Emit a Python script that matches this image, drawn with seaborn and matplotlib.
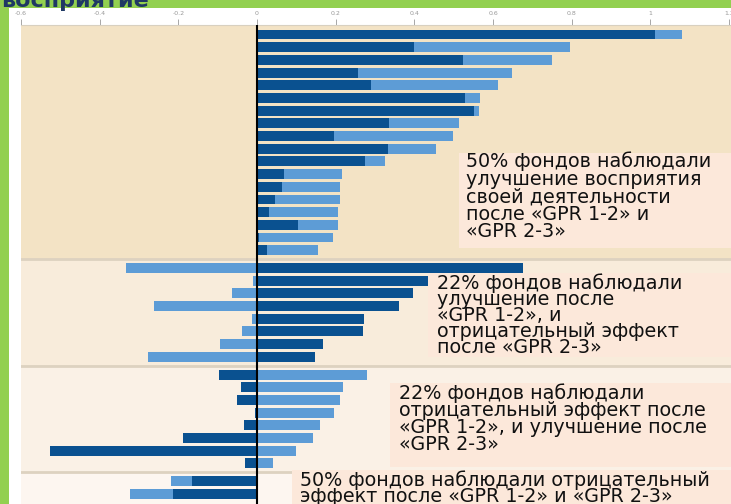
import numpy as np
import pandas as pd
import matplotlib
matplotlib.use('agg')
import matplotlib.pyplot as plt
from matplotlib.patches import Rectangle
import seaborn as sns

# change of perception per fund: dark = after GPR 1-2, light = after GPR 2-3
gpr12_both_up = [1.012, 0.400, 0.523, 0.256, 0.291, 0.530, 0.551, 0.336, 0.196,
                 0.332, 0.274, 0.069, 0.063, 0.046, 0.031, 0.105, 0.004, 0.025]
gpr23_both_up = [0.068, 0.395, 0.227, 0.393, 0.322, 0.037, 0.014, 0.178, 0.301,
                 0.123, 0.051, 0.146, 0.148, 0.165, 0.176, 0.102, 0.190, 0.131]
gpr12_up_down = [0.677, 0.460, 0.397, 0.361, 0.273, 0.270, 0.168, 0.147]
gpr23_up_down = [-0.333, -0.010, -0.063, -0.263, -0.012, -0.039, -0.094, -0.276]
gpr12_down_up = [-0.097, -0.041, -0.052, -0.004, -0.033, -0.189, -0.526, -0.030]
gpr23_down_up = [0.279, 0.219, 0.211, 0.196, 0.160, 0.143, 0.098, 0.041]
gpr12_both_down = [-0.166, -0.214]
gpr23_both_down = [-0.053, -0.109]

group_notes = [
    '50% фондов наблюдали\nулучшение восприятия\nсвоей деятельности\nпосле «GPR 1-2» и\n«GPR 2-3»',
    '22% фондов наблюдали\nулучшение после\n«GPR 1-2», и\nотрицательный эффект\nпосле «GPR 2-3»',
    '22% фондов наблюдали\nотрицательный эффект после\n«GPR 1-2», и улучшение после\n«GPR 2-3»',
    '50% фондов наблюдали отрицательный\nэффект после «GPR 1-2» и «GPR 2-3»',
]
title = 'восприятие'
tick_values = [-0.6, -0.4, -0.2, 0, 0.2, 0.4, 0.6, 0.8, 1, 1.2]
tick_labels = ['-0.6', '-0.4', '-0.2', '0', '0.2', '0.4', '0.6', '0.8', '1', '1.2']

W, H = 731, 504
GREEN = '#92D050'
DARK = '#0A5190'
LIGHT = '#5D9CD6'
PEACH = '#FCE8DA'
band_colors = ['#F3E3C5', '#F8ECDB', '#FAF1E6', '#FDF6F0']

groups = [(gpr12_both_up, gpr23_both_up), (gpr12_up_down, gpr23_up_down),
          (gpr12_down_up, gpr23_down_up), (gpr12_both_down, gpr23_both_down)]
rows = []
i = 0
for g, (d, l) in enumerate(groups):
    for a, b in zip(d, l):
        rows.append(dict(group=g, pos=i + 0.4 * g, dark=a, light=b))
        i += 1
df = pd.DataFrame(rows)
# light segment is stacked on the dark one when both go the same way
same = np.sign(df['dark']) == np.sign(df['light'])
df['light_end'] = np.where(same, df['dark'] + df['light'], df['light'])

fig = plt.figure(figsize=(W / 100, H / 100), dpi=100, facecolor=GREEN)
fig.patches.append(Rectangle((9 / W, 0), 1, 1 - 8 / H, transform=fig.transFigure,
                             facecolor='white', edgecolor='none', zorder=-5))
ax = fig.add_axes([21 / W, 0, 1 - 21 / W, (H - 25) / H])

# background bands per group
edges = [-0.75]
for g in range(1, 4):
    edges.append((df.loc[df.group == g - 1, 'pos'].max() + df.loc[df.group == g, 'pos'].min()) / 2)
edges.append(37.0)
for g in range(4):
    ax.axhspan(edges[g], edges[g + 1], color=band_colors[g], lw=0, zorder=0)
for e in edges[1:4]:
    ax.axhline(e, color='#DDD2C0', lw=2, zorder=0.5)

sns.barplot(data=df, x='light_end', y='pos', orient='y', native_scale=True, color=LIGHT,
            saturation=1, width=0.78, errorbar=None, ax=ax, zorder=2)
sns.barplot(data=df, x='dark', y='pos', orient='y', native_scale=True, color=DARK,
            saturation=1, width=0.78, errorbar=None, ax=ax, zorder=3)
ax.axvline(0, color='black', lw=1.5, zorder=4)

ax.set_xlim(-0.6, 1.205)
ax.set_ylim(37.0, -0.75)
ax.set_yticks([])
ax.set_ylabel('')
ax.set_xlabel('')
ax.xaxis.tick_top()
ax.set_xticks(tick_values)
ax.set_xticklabels(tick_labels)
ax.tick_params(axis='x', length=4, width=0.6, color='#999999', labelsize=4.5,
               labelcolor='#999999', pad=2.5)
for s in ['left', 'right', 'bottom']:
    ax.spines[s].set_visible(False)
ax.spines['top'].set_color('#D8D0C0')

fig.text(0.002, 1 - 7 / H, title, fontsize=16, fontweight='bold', color='#1F3864',
         va='baseline', ha='left')

# note boxes: left, top, bottom, text x, text centre y, line spacing
boxes = [(459, 153, 248, 466, 196.5, 0.90), (428, 273, 357, 437, 315, 0.81),
         (390, 383, 467, 399, 419, 0.86), (292, 470, 504, 300, 488, 0.76)]
for (x0, y0, y1, tx, ty, ls), note in zip(boxes, group_notes):
    fig.patches.append(Rectangle((x0 / W, 1 - y1 / H), 1, (y1 - y0) / H,
                                 transform=fig.transFigure, facecolor=PEACH,
                                 edgecolor='none', zorder=5))
    fig.text(tx / W, 1 - ty / H, note, fontsize=13.8, color='#111111', va='center',
             ha='left', linespacing=ls, zorder=6)

fig.savefig('out.png', dpi=100, facecolor=GREEN)
